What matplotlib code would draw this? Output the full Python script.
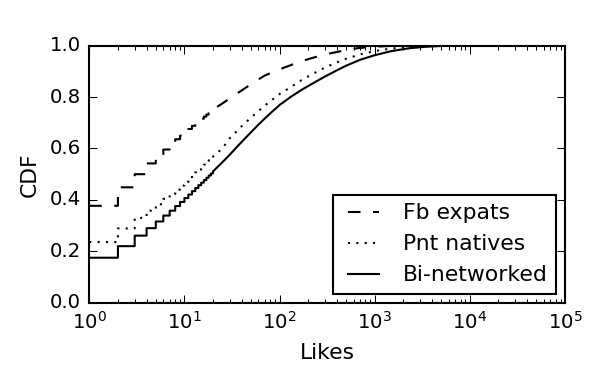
import numpy as np
import matplotlib
matplotlib.use("Agg")
import matplotlib.pyplot as plt

plt.style.use("classic")
plt.rcParams["font.family"] = ["DejaVu Sans"]
plt.rcParams["font.size"] = 10.5
plt.rcParams["xtick.labelsize"] = 9.5
plt.rcParams["ytick.labelsize"] = 9.5
plt.rcParams["lines.scale_dashes"] = False

# ---- data ----
# integer part (drawn as steps), then a smooth tail
likes_int = [1, 2, 3, 4, 5, 6, 7, 8, 9, 10, 11, 12, 13, 14, 15, 16, 17, 18, 19, 20]

fb_cdf_int = [0.377, 0.449, 0.500, 0.542, 0.573, 0.596, 0.618, 0.636, 0.650, 0.663,
              0.676, 0.688, 0.698, 0.707, 0.716, 0.724, 0.732, 0.739, 0.746, 0.752]
fb_likes_tail = [25, 30, 40, 56, 70, 100, 170, 250, 340, 500, 680, 1000, 1500, 3000, 100000]
fb_cdf_tail = [0.775, 0.795, 0.826, 0.862, 0.884, 0.908, 0.940, 0.958, 0.970, 0.983,
               0.991, 0.996, 0.999, 1.0, 1.0]

pnt_cdf_int = [0.236, 0.289, 0.330, 0.358, 0.383, 0.404, 0.423, 0.440, 0.456, 0.470,
               0.483, 0.496, 0.507, 0.518, 0.528, 0.537, 0.546, 0.554, 0.562, 0.569]
pnt_likes_tail = [25, 30, 35, 40, 50, 60, 70, 80, 100, 130, 170, 225, 300, 400, 500,
                  700, 1000, 1500, 2300, 3500, 6000, 100000]
pnt_cdf_tail = [0.600, 0.640, 0.665, 0.687, 0.720, 0.746, 0.767, 0.784, 0.812, 0.838,
                0.866, 0.891, 0.915, 0.935, 0.949, 0.966, 0.979, 0.989, 0.995, 0.998,
                1.0, 1.0]

bi_cdf_int = [0.175, 0.220, 0.261, 0.290, 0.316, 0.339, 0.358, 0.376, 0.392, 0.407,
              0.421, 0.434, 0.446, 0.457, 0.467, 0.477, 0.486, 0.495, 0.503, 0.511]
bi_likes_tail = [25, 30, 35, 40, 50, 60, 70, 80, 100, 130, 170, 225, 300, 400, 500,
                 700, 1000, 1500, 2300, 3500, 5000, 8000, 100000]
bi_cdf_tail = [0.546, 0.576, 0.603, 0.626, 0.663, 0.693, 0.717, 0.737, 0.769, 0.800,
               0.828, 0.854, 0.880, 0.904, 0.922, 0.945, 0.963, 0.979, 0.990, 0.996,
               0.999, 1.0, 1.0]


def curva(x_int, y_int, x_tail, y_tail):
    # steps-post for the integer part, then straight segments
    x = np.concatenate([np.repeat(x_int, 2)[1:], x_tail])
    y = np.concatenate([np.repeat(y_int, 2)[:-1], y_tail])
    return x, y


fig = plt.figure(figsize=(598 / 150, 370 / 150), facecolor="white")
ax = fig.add_axes([0.1493, 0.1819, 0.7955, 0.6946])

x, y = curva(likes_int, fb_cdf_int, fb_likes_tail, fb_cdf_tail)
ax.plot(x, y, color="black", lw=1.0, dashes=(6, 6), label="Fb expats")
x, y = curva(likes_int, pnt_cdf_int, pnt_likes_tail, pnt_cdf_tail)
ax.plot(x, y, color="black", lw=1.0, dashes=(1, 3), label="Pnt natives")
x, y = curva(likes_int, bi_cdf_int, bi_likes_tail, bi_cdf_tail)
ax.plot(x, y, color="black", lw=1.0, label="Bi-networked")

ax.set_xscale("log")
ax.set_xlim(1, 1e5)
ax.set_ylim(0, 1)
ax.set_yticks([0.0, 0.2, 0.4, 0.6, 0.8, 1.0])
ax.set_xlabel("Likes")
ax.set_ylabel("CDF")

leg = ax.legend(loc="lower right", fancybox=False, fontsize=10.5,
                handlelength=2.0, borderaxespad=0.4)
leg.get_frame().set_linewidth(1.0)
leg.get_frame().set_edgecolor("black")

fig.savefig("out.png", dpi=150, facecolor="white")
